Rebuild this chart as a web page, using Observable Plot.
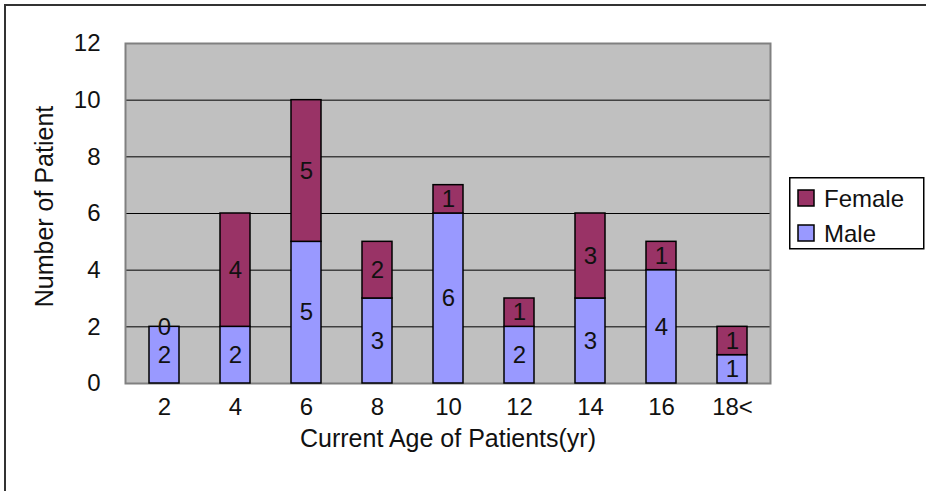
<!DOCTYPE html>
<html><head><meta charset="utf-8">
<script src="https://cdn.jsdelivr.net/npm/d3@7"></script>
<script src="https://cdn.jsdelivr.net/npm/@observablehq/plot@0.6"></script>
<style>
body{margin:0;background:#fff;overflow:hidden;}
#wrap{position:relative;width:926px;height:491px;overflow:hidden;font-family:"Liberation Sans",Arial,sans-serif;background:#fff;}
#wrap svg.plotsvg{position:absolute;left:0;top:0;}
#border{position:absolute;left:4px;top:4px;width:1000px;height:1000px;border:2px solid #333;background:transparent;}
#legend{position:absolute;left:789px;top:177px;}
</style>
</head><body>
<div id="wrap"></div>
<script>
const categories = ["2","4","6","8","10","12","14","16","18<"];
const male = [2,2,5,3,6,2,3,4,1];
const female = [0,4,5,2,1,1,3,1,1];
const seriesNames = ["Male","Female"];
const seriesColors = ["#9999FF","#993366"];
const yTicks = [0,2,4,6,8,10,12];
const xTitle = "Current Age of Patients(yr)";
const yTitle = "Number of Patient";

const rows = [];
categories.forEach((c,i)=>{
  rows.push({age:c, sex:"Male", count:male[i]});
  rows.push({age:c, sex:"Female", count:female[i]});
});

const chart = Plot.plot({
  width: 926, height: 491,
  marginTop: 43, marginRight: 156, marginBottom: 108, marginLeft: 125,
  style: {fontFamily: '"Liberation Sans", Arial, sans-serif', fontSize: "24px", color: "#111", background: "transparent"},
  x: {domain: categories, paddingInner: 0.58, paddingOuter: 0.29},
  y: {domain: [0,12], ticks: yTicks},
  color: {domain: seriesNames, range: seriesColors},
  marks: [
    Plot.frame({fill: "#C0C0C0"}),
    Plot.gridY(yTicks.filter(d => d > 0 && d < 12), {stroke: "#000", strokeOpacity: 1, strokeWidth: 1}),
    Plot.frame({stroke: "#808080", strokeWidth: 2}),
    Plot.axisY({ticks: yTicks, tickSize: 0, tickPadding: 25, label: null}),
    Plot.axisX({tickSize: 0, tickPadding: 14, label: null}),
    Plot.barY(rows, {x: "age", y: "count", fill: "sex", stroke: "#000", strokeWidth: 1.5}),
    Plot.text(rows, Plot.stackY({x: "age", y: "count", text: d => String(d.count), fill: "#111"})),
    Plot.text([xTitle], {frameAnchor: "bottom", dy: 55, lineAnchor: "middle", text: d => d, fill: "#111", fontSize: 25}),
    Plot.text([yTitle], {frameAnchor: "left", textAnchor: "middle", dx: -81, dy: -7, rotate: -90, lineAnchor: "middle", text: d => d, fill: "#111", fontSize: 25})
  ]
});
chart.classList.add("plotsvg");
const wrap = document.getElementById("wrap");
wrap.appendChild(chart);

// legend
const legendOrder = ["Female","Male"];
const lg = d3.select(wrap).append("svg").attr("id","legend").attr("width",137).attr("height",74);
lg.append("rect").attr("x",0.75).attr("y",0.75).attr("width",134).attr("height",71).attr("fill","#fff").attr("stroke","#000").attr("stroke-width",1.5);
legendOrder.forEach((name,i)=>{
  const col = seriesColors[seriesNames.indexOf(name)];
  lg.append("rect").attr("x",9).attr("y",13+i*35).attr("width",16).attr("height",16).attr("fill",col).attr("stroke","#000").attr("stroke-width",1.5);
  lg.append("text").attr("x",35).attr("y",30+i*35).attr("font-size",24).attr("fill","#111")
    .attr("font-family",'"Liberation Sans", Arial, sans-serif').text(name);
});

d3.select(wrap).append("div").attr("id","border");
</script>
</body></html>
